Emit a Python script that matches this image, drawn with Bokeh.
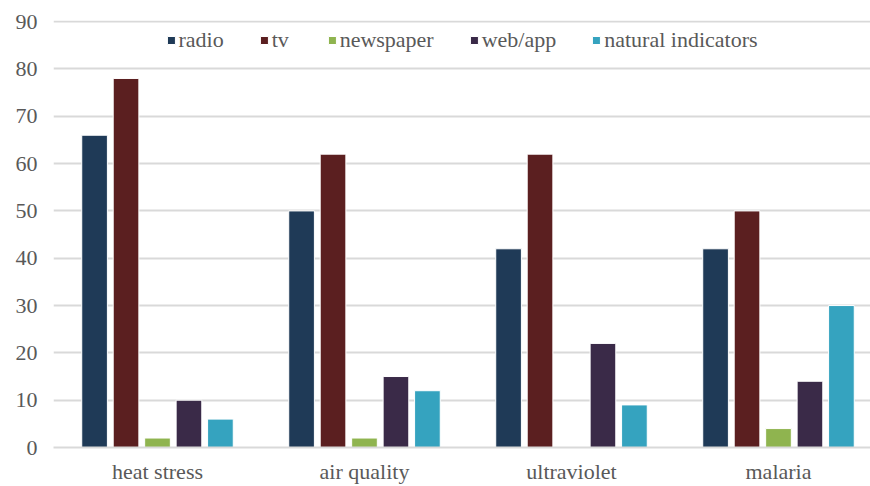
from bokeh.plotting import figure
from bokeh.models import ColumnDataSource, FixedTicker, Legend, LegendItem, Range1d
from bokeh.embed import file_html
from bokeh.resources import INLINE

categories = ["heat stress", "air quality", "ultraviolet", "malaria"]
series = ["radio", "tv", "newspaper", "web/app", "natural indicators"]
radio = [66, 50, 42, 42]
tv = [78, 62, 62, 50]
newspaper = [2, 2, 0, 4]
webapp = [10, 15, 22, 14]
natural = [6, 12, 9, 30]
y_ticks = [0, 10, 20, 30, 40, 50, 60, 70, 80, 90]

colors = ["#1f3a57", "#5b1f20", "#8fb44f", "#3a2a48", "#35a3bf"]
values = [radio, tv, newspaper, webapp, natural]

TXT = "#595959"
FONT = "Liberation Serif"
FS = "22px"

p = figure(width=870, height=486, output_backend="svg", toolbar_location=None,
           x_range=Range1d(-0.5024, 3.4445), y_range=Range1d(0, 90.25),
           min_border_left=53, min_border_right=0, min_border_top=20, min_border_bottom=38)
p.outline_line_color = None

step = 0.152
width = 0.124
renderers = []
xs = list(range(len(categories)))
for k, (name, vals, col) in enumerate(zip(series, values, colors)):
    off = (k - 2) * step
    src = ColumnDataSource(dict(x=[i + off for i in xs], top=vals))
    r = p.vbar(x="x", top="top", width=width, source=src, fill_color=col,
               line_color="white", line_width=1)
    renderers.append(r)

p.xaxis.ticker = FixedTicker(ticks=xs)
p.xaxis.major_label_overrides = {i: c for i, c in enumerate(categories)}
p.yaxis.ticker = FixedTicker(ticks=y_ticks)

for ax in (p.xaxis, p.yaxis):
    ax.major_tick_line_color = None
    ax.minor_tick_line_color = None
    ax.major_label_text_font_size = FS
    ax.major_label_text_color = TXT
    ax.major_label_text_font = FONT
p.yaxis.axis_line_color = None
p.yaxis.major_label_standoff = 10
p.xaxis.axis_line_color = "#d9d9d9"
p.xaxis.axis_line_width = 2
p.xaxis.major_label_standoff = 5

p.xgrid.grid_line_color = None
p.ygrid.grid_line_color = "#d9d9d9"
p.ygrid.grid_line_width = 2

legend = Legend(items=[LegendItem(label=s, renderers=[r]) for s, r in zip(series, renderers)],
                orientation="horizontal", location="top")
legend.label_text_font = FONT
legend.label_text_font_size = FS
legend.label_text_color = TXT
legend.glyph_width = 10
legend.glyph_height = 10
legend.label_standoff = 3
legend.spacing = 35
legend.padding = 0
legend.margin = 7
legend.border_line_color = None
legend.background_fill_alpha = 0
p.add_layout(legend)

open("out.html", "w").write(file_html(p, INLINE))
